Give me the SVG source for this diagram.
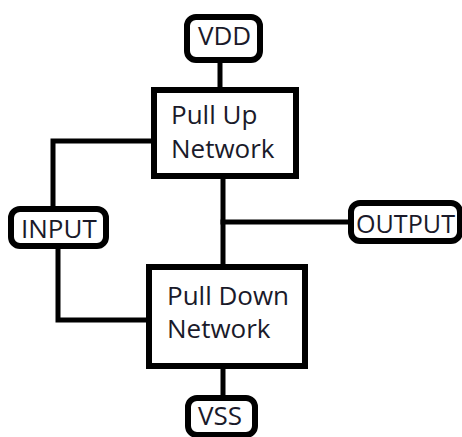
<svg xmlns="http://www.w3.org/2000/svg" width="462" height="437" viewBox="0 0 462 437">
  <style>
    .wire { fill: none; stroke: #000; stroke-width: 5; stroke-linejoin: miter; stroke-linecap: square; }
    .block { fill: #fff; stroke: #000; stroke-width: 6; }
    .pin { fill: #fff; stroke: #000; stroke-width: 6; }
    .label { font-family: "Open Sans", "Liberation Sans", sans-serif; font-size: 26px; fill: #1a1a2a; }
  </style>
  <rect width="462" height="437" fill="#fff"/>

  <!-- wiring between the pins and the two networks -->
  <g id="connectors">
    <line class="wire" x1="220" y1="60" x2="220" y2="90"/>
    <line class="wire" x1="223" y1="176" x2="223" y2="267"/>
    <line class="wire" x1="223" y1="222" x2="351" y2="222"/>
    <line class="wire" x1="223" y1="366" x2="223" y2="398"/>
    <polyline class="wire" points="154,141 53,141 53,209"/>
    <polyline class="wire" points="58,246 58,320 149,320"/>
  </g>

  <g id="vdd">
    <rect class="pin" x="187" y="17" width="73" height="43" rx="9"/>
    <text class="label" x="198" y="45">VDD</text>
  </g>

  <g id="pull-up">
    <rect class="block" x="154" y="90" width="142" height="86"/>
    <text class="label" x="171" y="124">Pull Up</text>
    <text class="label" x="171" y="158">Network</text>
  </g>

  <g id="input">
    <rect class="pin" x="11" y="209" width="95" height="37" rx="9"/>
    <text class="label" x="21" y="238">INPUT</text>
  </g>

  <g id="output">
    <rect class="pin" x="351" y="203" width="109" height="38" rx="9"/>
    <text class="label" x="356" y="233" textLength="99" lengthAdjust="spacingAndGlyphs">OUTPUT</text>
  </g>

  <g id="pull-down">
    <rect class="block" x="149" y="267" width="156" height="99"/>
    <text class="label" x="167" y="305">Pull Down</text>
    <text class="label" x="167" y="338">Network</text>
  </g>

  <g id="vss">
    <rect class="pin" x="188" y="398" width="67" height="37" rx="9"/>
    <text class="label" x="198" y="425">VSS</text>
  </g>
</svg>
